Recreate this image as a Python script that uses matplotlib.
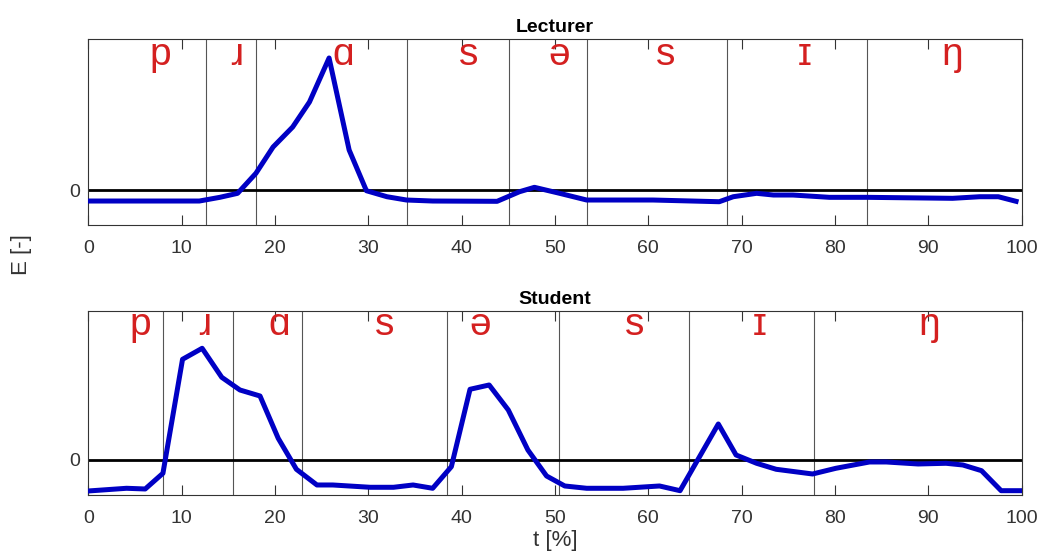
import matplotlib
matplotlib.use("Agg")
import matplotlib.pyplot as plt

plt.rcParams['font.family'] = ['Liberation Sans', 'DejaVu Sans']

# Lecturer curve
lect_t = [0, 11.9, 14.1, 16.0, 17.96, 19.8, 21.9, 23.7, 25.8, 27.95, 29.8, 32.0, 34.1,
          36.9, 43.8, 46.2, 47.8, 50.5, 53.4, 60.5, 67.6, 69.1, 71.6, 73.4, 75.5,
          79.4, 83.4, 92.6, 95.5, 97.5, 99.4]
lect_e = [-0.11, -0.11, -0.073, -0.033, 0.167, 0.43, 0.63, 0.88, 1.32, 0.40, -0.007,
          -0.067, -0.10, -0.11, -0.113, -0.017, 0.027, -0.033, -0.10, -0.10, -0.117,
          -0.067, -0.033, -0.05, -0.05, -0.073, -0.073, -0.083, -0.067, -0.067, -0.113]

# Student curve
stud_t = [0, 4.1, 6.1, 8.0, 10.1, 12.2, 14.3, 16.25, 18.4, 20.35, 22.3, 24.5, 26.2,
          30.2, 32.7, 34.8, 36.9, 38.9, 40.9, 42.95, 45.0, 47.1, 49.1, 51.05, 53.4,
          57.3, 61.2, 63.4, 67.5, 69.4, 71.6, 73.7, 77.6, 80.1, 83.7, 85.5, 88.9,
          91.9, 93.7, 95.7, 97.8, 100]
stud_e = [-0.31, -0.283, -0.29, -0.133, 1.007, 1.117, 0.827, 0.70, 0.64, 0.217, -0.093,
          -0.25, -0.25, -0.273, -0.273, -0.25, -0.283, -0.067, 0.707, 0.75, 0.50, 0.10,
          -0.16, -0.26, -0.283, -0.283, -0.26, -0.307, 0.36, 0.05, -0.033, -0.093,
          -0.14, -0.083, -0.02, -0.02, -0.04, -0.033, -0.05, -0.107, -0.307, -0.307]

phonemes = ['p', 'ɹ', 'ɑ', 's', 'ə', 's', 'ɪ', 'ŋ']
lect_bounds = [12.57, 17.96, 34.1, 45.06, 53.45, 68.48, 83.43]
lect_label_t = [7.68, 15.9, 27.3, 40.7, 50.5, 61.9, 76.8, 92.6]
stud_bounds = [8.03, 15.46, 22.85, 38.45, 50.45, 64.34, 77.8]
stud_label_t = [5.54, 12.5, 20.5, 31.8, 42.0, 58.5, 71.9, 90.1]

xticks = list(range(0, 101, 10))

fig = plt.figure(figsize=(10.47, 5.57), dpi=100)
ax1 = fig.add_axes([0.0843, 0.596, 0.8915, 0.334])
ax2 = fig.add_axes([0.0843, 0.1108, 0.8915, 0.3314])

tick_color = '#333333'
for ax, title, t, e, bounds, lt, ylim in [
        (ax1, 'Lecturer', lect_t, lect_e, lect_bounds, lect_label_t, (-0.35, 1.51)),
        (ax2, 'Student', stud_t, stud_e, stud_bounds, stud_label_t, (-0.353, 1.493))]:
    for b in bounds:
        ax.axvline(b, color='#555555', lw=0.8, zorder=1)
    ax.axhline(0, color='black', lw=2.0, zorder=2)
    ax.plot(t, e, color='#0000c4', lw=3.6, zorder=3, solid_joinstyle='round')
    for ph, x in zip(phonemes, lt):
        ax.text(x, 1.25, ph, color='#d42020', fontsize=28, ha='center',
                va='baseline', zorder=4)
    ax.set_xlim(0, 100)
    ax.set_ylim(*ylim)
    ax.set_xticks(xticks)
    ax.set_yticks([0])
    ax.tick_params(axis='x', pad=10.5)
    ax.tick_params(axis='y', pad=6)
    ax.tick_params(direction='in', length=7, width=0.8, top=True, right=True,
                   labelsize=14, colors=tick_color, labelcolor=tick_color)
    for s in ax.spines.values():
        s.set_color('#333333')
        s.set_linewidth(0.8)
    ax.set_title(title, fontsize=14, fontweight='bold', pad=5)

ax2.set_xlabel('t [%]', fontsize=16, color='#333333', labelpad=2)
fig.text(0.021, 1 - 255 / 557, 'E [-]', rotation=90, fontsize=16,
         color='#333333', ha='center', va='center')

fig.savefig('out.png', dpi=100, facecolor='white')
